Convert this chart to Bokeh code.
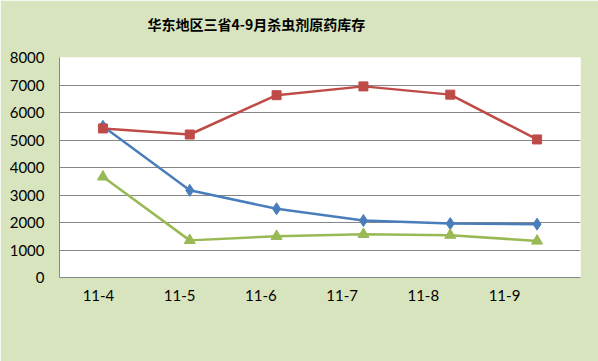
from bokeh.plotting import figure
from bokeh.models import (Range1d, LinearAxis, FixedTicker, Title,
                          Legend, LegendItem)
from bokeh.embed import file_html
from bokeh.resources import INLINE

title_text = "华东地区三省4-9月杀虫剂原药库存"
months = ["11-4", "11-5", "11-6", "11-7", "11-8", "11-9"]
series_names = ["山东", "江苏", "浙江"]
shandong = [5500, 3170, 2500, 2070, 1960, 1940]
jiangsu = [5420, 5200, 6630, 6950, 6650, 5020]
zhejiang = [3660, 1350, 1500, 1570, 1540, 1330]
y_ticks = [0, 1000, 2000, 3000, 4000, 5000, 6000, 7000, 8000]
watermark_text = "更多资讯请查看农药工业网WWW.CCPIA.COM.CN"

BG = "#D7E4BD"
GRID = "#868686"

xs = list(range(len(months)))

p = figure(frame_width=521, frame_height=220,
           x_range=Range1d(-0.5, len(months) - 0.5),
           y_range=Range1d(0, 8000),
           x_axis_location=None,
           output_backend="svg", toolbar_location=None,
           min_border_left=59, min_border_right=18,
           min_border_top=57, min_border_bottom=84,
           background_fill_color="white", border_fill_color=BG,
           outline_line_color=None)
p.xgrid.visible = False

# title (above panel): a thin spacer next to the frame, then the title text
spacer = Title(text=" ", text_font="Noto Sans CJK SC", text_font_size="5px")
p.add_layout(spacer, "above")
main_title = Title(text=title_text, align="left", offset=88,
                   text_font="Noto Sans CJK SC", text_font_style="bold",
                   text_font_size="14px", text_color="black")
p.add_layout(main_title, "above")

# y axis
p.yaxis.ticker = FixedTicker(ticks=y_ticks)
p.yaxis.major_tick_line_color = None
p.yaxis.minor_tick_line_color = None
p.yaxis.major_tick_out = 0
p.yaxis.minor_tick_out = 0
p.yaxis.axis_line_color = GRID
p.yaxis.major_label_text_font = "Lato"
p.yaxis.major_label_text_font_size = "15px"
p.yaxis.major_label_text_color = "black"
p.yaxis.major_label_standoff = 15
p.ygrid.grid_line_color = GRID
p.ygrid.grid_line_width = 1

# category label axis (labels sit slightly left of the points, as in the source)
p.extra_x_ranges = {"lab": Range1d(-0.48, 5.936)}
lab_axis = LinearAxis(x_range_name="lab",
                      ticker=FixedTicker(ticks=xs),
                      major_label_overrides={i: m for i, m in zip(xs, months)})
lab_axis.major_tick_line_color = None
lab_axis.minor_tick_line_color = None
lab_axis.major_tick_out = 0
lab_axis.minor_tick_out = 0
lab_axis.axis_line_color = GRID
lab_axis.major_label_text_font = "Lato"
lab_axis.major_label_text_font_size = "15px"
lab_axis.major_label_text_color = "black"
lab_axis.major_label_standoff = 12
p.add_layout(lab_axis, "below")

styles = [
    (shandong, "#4A7EBB", "diamond", 12),
    (jiangsu, "#BE4B48", "square", 9),
    (zhejiang, "#98B954", "triangle", 11),
]
ghost_lead = p.line(xs, shandong, line_alpha=0)
items = [LegendItem(label="\u2002", renderers=[ghost_lead])]
for name, (vals, color, marker, size) in zip(series_names, styles):
    r1 = p.line(xs, vals, line_color=color, line_width=2.5)
    r2 = p.scatter(xs, vals, marker=marker, size=size,
                   fill_color=color, line_color=color)
    items.append(LegendItem(label=name, renderers=[r1, r2]))

# invisible trailing entry, only to shift the centred legend to the left
ghost_tail = p.line(xs, shandong, line_alpha=0)
items.append(LegendItem(label="\u3000" * 5, renderers=[ghost_tail]))

# the watermark line is carried as the legend's title, just above the entries
legend = Legend(items=items, location="center", orientation="horizontal",
                title=watermark_text, title_text_font="Lato",
                title_text_font_size="15px", title_text_font_style="normal",
                title_text_color="#22B14C", title_standoff=5,
                glyph_width=31, glyph_height=16, label_height=16,
                label_standoff=5, spacing=15,
                padding=0, margin=0, background_fill_alpha=0,
                border_line_color=None,
                label_text_font="Lato", label_text_font_size="14px",
                label_text_color="#111111")
p.add_layout(legend, "below")

open("out.html", "w").write(file_html(p, INLINE))
